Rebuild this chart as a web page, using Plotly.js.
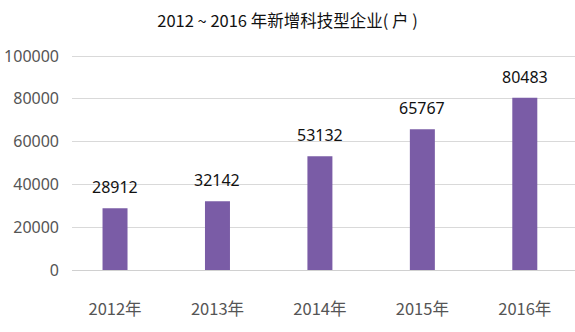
<!DOCTYPE html>
<html>
<head>
<meta charset="utf-8">
<script src="https://cdn.plot.ly/plotly-3.0.1.min.js"></script>
<style>html,body{margin:0;padding:0;background:#fff;}#chart{width:575px;height:332px;}</style>
</head>
<body>
<div id="chart"></div>
<script>
var categories = ["2012年", "2013年", "2014年", "2015年", "2016年"];
var values = [28912, 32142, 53132, 65767, 80483];
var yTicks = [0, 20000, 40000, 60000, 80000, 100000];

var trace = {
  type: "bar",
  x: categories,
  y: values,
  marker: {color: "#7a5ca6"},
  hoverinfo: "none"
};

var annotations = categories.map(function (c, i) {
  return {
    x: c, y: values[i], xref: "x", yref: "y",
    text: String(values[i]),
    showarrow: false, yanchor: "bottom", yshift: 8,
    font: {family: "Noto Sans, Open Sans, sans-serif", size: 16, color: "#111"}
  };
});

var layout = {
  width: 575, height: 332,
  margin: {l: 72, r: 0, t: 54, b: 62},
  paper_bgcolor: "#fff", plot_bgcolor: "#fff",
  bargap: 0.756,
  showlegend: false,
  title: {
    text: "2012 ~ 2016 年新增科技型企业( 户 )",
    x: 0.5, xanchor: "center", y: 0.935, yanchor: "middle",
    font: {family: "Noto Sans CJK SC, sans-serif", size: 16.5, color: "#111"}
  },
  xaxis: {
    range: [-0.42, 4.49],
    showgrid: false, showline: false, zeroline: false,
    ticks: "", ticklabelstandoff: 27,
    tickfont: {family: "Noto Sans CJK SC, sans-serif", size: 16.5, color: "#555"}
  },
  yaxis: {
    range: [0, 100935],
    tickvals: yTicks,
    ticktext: yTicks.map(String),
    showgrid: true, gridcolor: "#d9d9d9", gridwidth: 1,
    zeroline: true, zerolinecolor: "#d0d0d0", zerolinewidth: 1,
    showline: false, ticks: "", ticklabelstandoff: 12,
    tickfont: {family: "Noto Sans, Open Sans, sans-serif", size: 16, color: "#555"}
  },
  annotations: annotations
};

Plotly.newPlot("chart", [trace], layout, {displayModeBar: false, staticPlot: true});
</script>
</body>
</html>
